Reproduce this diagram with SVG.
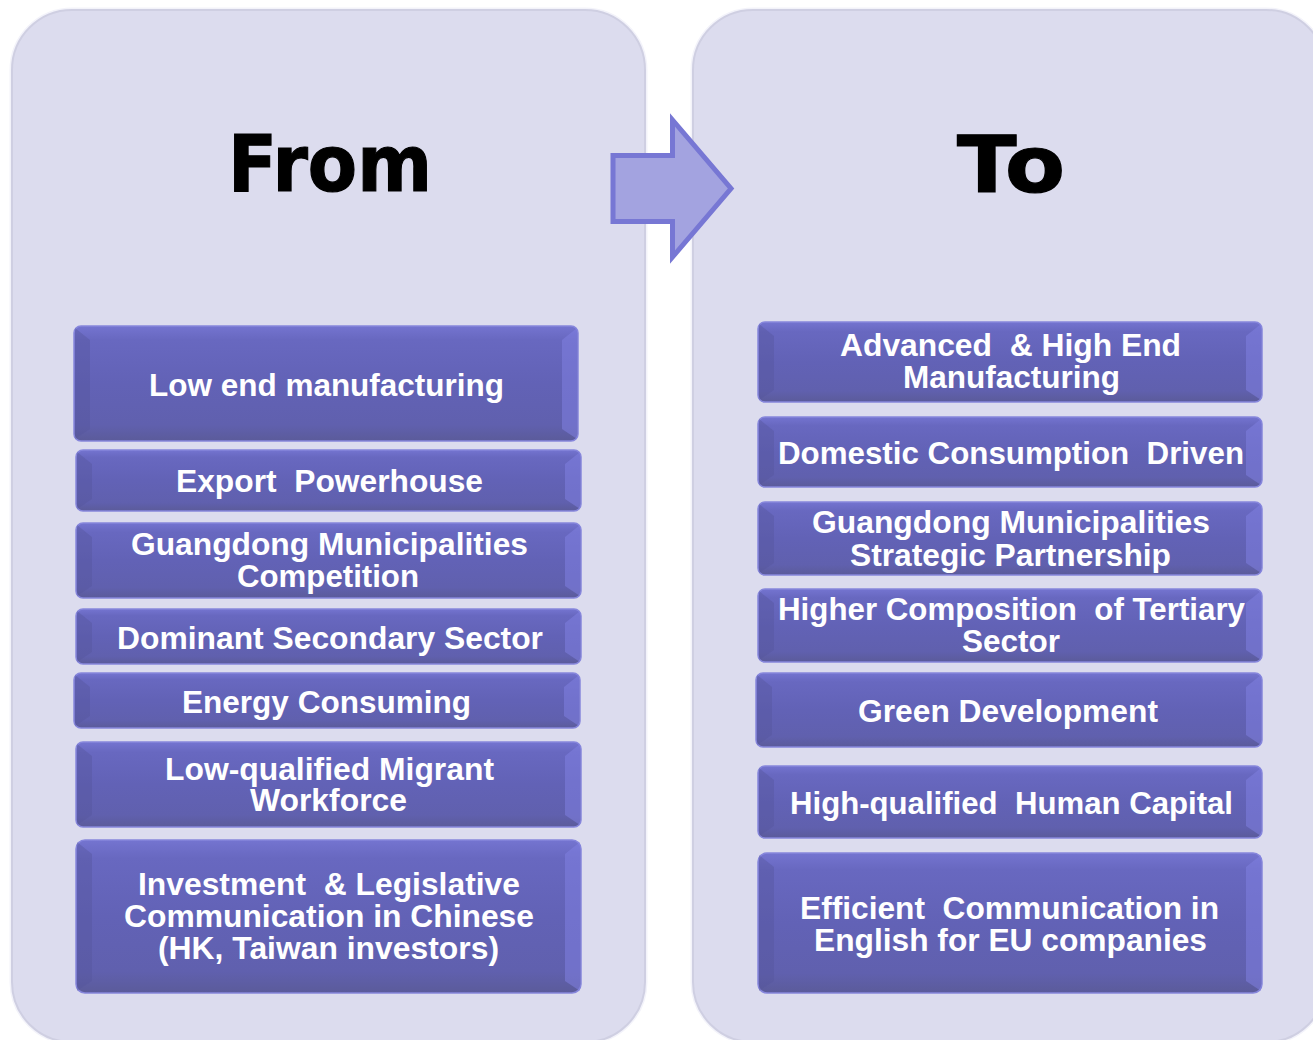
<svg xmlns="http://www.w3.org/2000/svg" width="1313" height="1040" viewBox="0 0 1313 1040">
<style>
.panel{fill:#dcdcee;stroke:#cfcfe2;stroke-width:2}
.panelglow{fill:none;stroke:#f3f3fa;stroke-width:5}
.box{fill:url(#boxg);stroke:#8686dc;stroke-width:1.5}
.bl{fill:#55559c;opacity:.4}
.br{fill:#8080e0;opacity:.55}
.t{font-family:"Liberation Sans",Arial,sans-serif;font-weight:bold;font-size:30.5px;fill:#ffffff;text-anchor:middle;white-space:pre}
.title{font-family:"DejaVu Sans",Verdana,sans-serif;font-weight:bold;font-size:79px;fill:#000000;text-anchor:middle;stroke:#000000;stroke-width:1.2}
.arrow{fill:#a3a3e0;stroke:#7777d4;stroke-width:5;stroke-linejoin:miter}
</style>
<defs>
<linearGradient id="boxg" x1="0" y1="0" x2="0" y2="1">
<stop offset="0" stop-color="#7474d0"/>
<stop offset="0.12" stop-color="#6868c0"/>
<stop offset="0.5" stop-color="#6262b6"/>
<stop offset="0.86" stop-color="#6060ae"/>
<stop offset="1" stop-color="#5b5b9a"/>
</linearGradient>
</defs>
<rect width="1313" height="1040" fill="#ffffff"/>
<g id="panel-from">
<rect class="panelglow" x="12" y="10" width="633" height="1032" rx="60"/>
<rect class="panel" x="12" y="10" width="633" height="1032" rx="60"/>
<text class="title" x="330" y="191" textLength="204" lengthAdjust="spacingAndGlyphs">From</text>
</g>
<g id="panel-to">
<rect class="panelglow" x="693" y="10" width="633" height="1032" rx="60"/>
<rect class="panel" x="693" y="10" width="633" height="1032" rx="60"/>
<text class="title" x="1011" y="192" textLength="108" lengthAdjust="spacingAndGlyphs">To</text>
</g>
<g id="connectors">
<path class="arrow" d="M613,155.5 L672.5,155.5 L672.5,120 L731,188.5 L672.5,257 L672.5,221.5 L613,221.5 Z"/>
</g>
<g id="from-1">
<rect class="box" x="74" y="326" width="504" height="115" rx="7"/>
<path class="bl" d="M75,328 L90,340 L90,429 L75,439 Z"/><path class="br" d="M577,328 L562,340 L562,429 L577,439 Z"/>
<text class="t" x="326.5" y="396" textLength="355" lengthAdjust="spacingAndGlyphs">Low end manufacturing</text>
</g>
<g id="from-2">
<rect class="box" x="76" y="450" width="505" height="61" rx="7"/>
<path class="bl" d="M77,452 L92,464 L92,499 L77,509 Z"/><path class="br" d="M580,452 L565,464 L565,499 L580,509 Z"/>
<text class="t" x="329.5" y="492" textLength="307" lengthAdjust="spacingAndGlyphs">Export  Powerhouse</text>
</g>
<g id="from-3">
<rect class="box" x="76" y="523" width="505" height="75" rx="7"/>
<path class="bl" d="M77,525 L92,537 L92,586 L77,596 Z"/><path class="br" d="M580,525 L565,537 L565,586 L580,596 Z"/>
<text class="t" x="329.5" y="555" textLength="397" lengthAdjust="spacingAndGlyphs">Guangdong Municipalities</text>
<text class="t" x="328" y="587" textLength="182" lengthAdjust="spacingAndGlyphs">Competition</text>
</g>
<g id="from-4">
<rect class="box" x="76" y="609" width="505" height="55" rx="7"/>
<path class="bl" d="M77,611 L92,623 L92,652 L77,662 Z"/><path class="br" d="M580,611 L565,623 L565,652 L580,662 Z"/>
<text class="t" x="330" y="649" textLength="426" lengthAdjust="spacingAndGlyphs">Dominant Secondary Sector</text>
</g>
<g id="from-5">
<rect class="box" x="74" y="673" width="506" height="55" rx="7"/>
<path class="bl" d="M75,675 L90,687 L90,716 L75,726 Z"/><path class="br" d="M579,675 L564,687 L564,716 L579,726 Z"/>
<text class="t" x="326.5" y="713" textLength="289" lengthAdjust="spacingAndGlyphs">Energy Consuming</text>
</g>
<g id="from-6">
<rect class="box" x="76" y="742" width="505" height="85" rx="7"/>
<path class="bl" d="M77,744 L92,756 L92,815 L77,825 Z"/><path class="br" d="M580,744 L565,756 L565,815 L580,825 Z"/>
<text class="t" x="329.5" y="780" textLength="329" lengthAdjust="spacingAndGlyphs">Low-qualified Migrant</text>
<text class="t" x="328.5" y="811" textLength="157" lengthAdjust="spacingAndGlyphs">Workforce</text>
</g>
<g id="from-7">
<rect class="box" x="76" y="840" width="505" height="153" rx="9"/>
<path class="bl" d="M77,842 L92,854 L92,981 L77,991 Z"/><path class="br" d="M580,842 L565,854 L565,981 L580,991 Z"/>
<text class="t" x="329" y="895" textLength="382" lengthAdjust="spacingAndGlyphs">Investment  &amp; Legislative</text>
<text class="t" x="329" y="927" textLength="410" lengthAdjust="spacingAndGlyphs">Communication in Chinese</text>
<text class="t" x="328.5" y="959" textLength="341" lengthAdjust="spacingAndGlyphs">(HK, Taiwan investors)</text>
</g>
<g id="to-1">
<rect class="box" x="758" y="322" width="504" height="80" rx="7"/>
<path class="bl" d="M759,324 L774,336 L774,390 L759,400 Z"/><path class="br" d="M1261,324 L1246,336 L1246,390 L1261,400 Z"/>
<text class="t" x="1010.5" y="356" textLength="341" lengthAdjust="spacingAndGlyphs">Advanced  &amp; High End</text>
<text class="t" x="1011.5" y="388" textLength="217" lengthAdjust="spacingAndGlyphs">Manufacturing</text>
</g>
<g id="to-2">
<rect class="box" x="758" y="417" width="504" height="70" rx="7"/>
<path class="bl" d="M759,419 L774,431 L774,475 L759,485 Z"/><path class="br" d="M1261,419 L1246,431 L1246,475 L1261,485 Z"/>
<text class="t" x="1011" y="464" textLength="466" lengthAdjust="spacingAndGlyphs">Domestic Consumption  Driven</text>
</g>
<g id="to-3">
<rect class="box" x="758" y="502" width="504" height="73" rx="7"/>
<path class="bl" d="M759,504 L774,516 L774,563 L759,573 Z"/><path class="br" d="M1261,504 L1246,516 L1246,563 L1261,573 Z"/>
<text class="t" x="1011" y="533" textLength="398" lengthAdjust="spacingAndGlyphs">Guangdong Municipalities</text>
<text class="t" x="1010.5" y="566" textLength="321" lengthAdjust="spacingAndGlyphs">Strategic Partnership</text>
</g>
<g id="to-4">
<rect class="box" x="758" y="589" width="504" height="73" rx="7"/>
<path class="bl" d="M759,591 L774,603 L774,650 L759,660 Z"/><path class="br" d="M1261,591 L1246,603 L1246,650 L1261,660 Z"/>
<text class="t" x="1011.5" y="620" textLength="467" lengthAdjust="spacingAndGlyphs">Higher Composition  of Tertiary</text>
<text class="t" x="1011" y="652" textLength="98" lengthAdjust="spacingAndGlyphs">Sector</text>
</g>
<g id="to-5">
<rect class="box" x="756" y="673" width="506" height="74" rx="7"/>
<path class="bl" d="M757,675 L772,687 L772,735 L757,745 Z"/><path class="br" d="M1261,675 L1246,687 L1246,735 L1261,745 Z"/>
<text class="t" x="1008" y="722" textLength="300" lengthAdjust="spacingAndGlyphs">Green Development</text>
</g>
<g id="to-6">
<rect class="box" x="758" y="766" width="504" height="72" rx="7"/>
<path class="bl" d="M759,768 L774,780 L774,826 L759,836 Z"/><path class="br" d="M1261,768 L1246,780 L1246,826 L1261,836 Z"/>
<text class="t" x="1011.5" y="814" textLength="443" lengthAdjust="spacingAndGlyphs">High-qualified  Human Capital</text>
</g>
<g id="to-7">
<rect class="box" x="758" y="853" width="504" height="140" rx="9"/>
<path class="bl" d="M759,855 L774,867 L774,981 L759,991 Z"/><path class="br" d="M1261,855 L1246,867 L1246,981 L1261,991 Z"/>
<text class="t" x="1009.5" y="919" textLength="419" lengthAdjust="spacingAndGlyphs">Efficient  Communication in</text>
<text class="t" x="1010.5" y="951" textLength="393" lengthAdjust="spacingAndGlyphs">English for EU companies</text>
</g>
</svg>
